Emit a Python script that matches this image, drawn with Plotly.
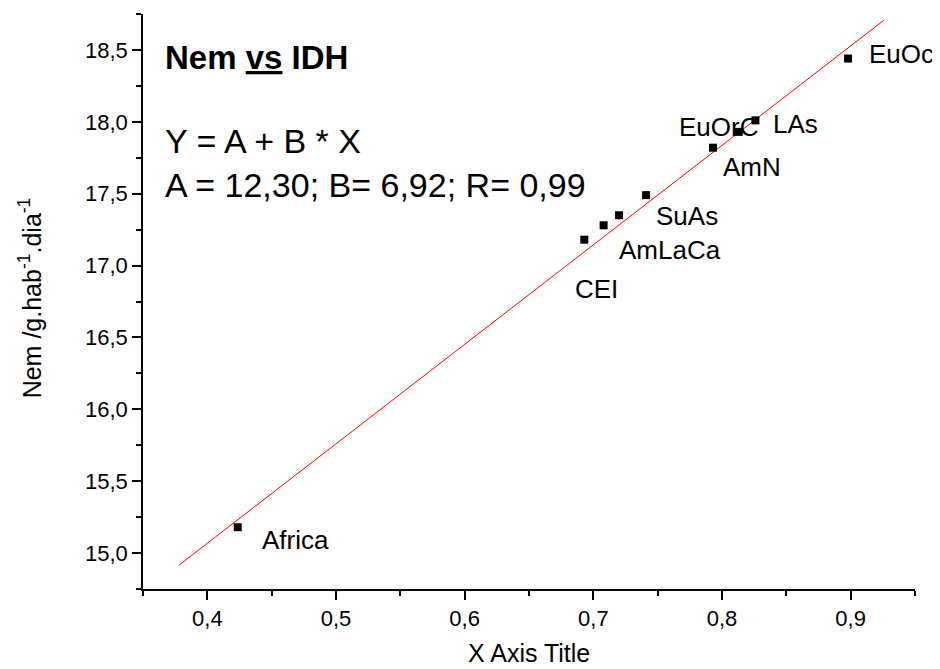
import plotly.graph_objects as go

# ---- data ----
idh = [0.4236, 0.693, 0.708, 0.720, 0.741, 0.793, 0.813, 0.826, 0.898]
nem = [15.18, 17.18, 17.28, 17.35, 17.49, 17.82, 17.93, 18.01, 18.44]
labels = ["Africa", "CEI", "AmLaCa", "", "SuAs", "AmN", "EuOrC", "LAs", "EuOc"]
fit_A = 12.30
fit_B = 6.92
fit_x = [0.378, 0.926]
x_ticks = [0.4, 0.5, 0.6, 0.7, 0.8, 0.9]
y_ticks = [15.0, 15.5, 16.0, 16.5, 17.0, 17.5, 18.0, 18.5]

# label offsets in pixels (left edge, vertical centre) relative to point
label_dx = [23, -10, 14, 0, 9, 9, -61, 17, 20]
label_dy = [13, 49, 25, 0, 21, 19, -5, 4, -5]

fit_y = [fit_A + fit_B * x for x in fit_x]

FONT = "Liberation Sans, Arial, sans-serif"

fig = go.Figure()
fig.add_trace(go.Scatter(x=fit_x, y=fit_y, mode="lines",
                         line=dict(color="#ff0000", width=1), hoverinfo="skip"))
fig.add_trace(go.Scatter(x=idh, y=nem, mode="markers",
                         marker=dict(symbol="square", color="black", size=8,
                                     line=dict(width=0))))

annotations = []
for x, y, t, dx, dy in zip(idh, nem, labels, label_dx, label_dy):
    if not t:
        continue
    annotations.append(dict(x=x, y=y, xref="x", yref="y", text=t, showarrow=False,
                            xanchor="left", yanchor="middle", xshift=dx - 1, yshift=-dy,
                            font=dict(size=26, color="black", family=FONT)))

annotations.append(dict(x=0.0264, y=0.925, xref="paper", yref="paper",
                        text="<b>Nem <u>vs</u> IDH</b>", showarrow=False,
                        xanchor="left", yanchor="middle",
                        font=dict(size=33, color="black", family=FONT)))
annotations.append(dict(x=0.0264, y=0.779, xref="paper", yref="paper",
                        text="Y = A + B * X", showarrow=False,
                        xanchor="left", yanchor="middle",
                        font=dict(size=34, color="black", family=FONT)))
annotations.append(dict(x=0.0264, y=0.7026, xref="paper", yref="paper",
                        text="A = 12,30; B= 6,92; R= 0,99", showarrow=False,
                        xanchor="left", yanchor="middle",
                        font=dict(size=34, color="black", family=FONT)))
# axis titles
annotations.append(dict(x=0.5, y=-0.112, xref="paper", yref="paper",
                        text="X Axis Title", showarrow=False,
                        xanchor="center", yanchor="middle",
                        font=dict(size=25, color="black", family=FONT)))
annotations.append(dict(x=-0.146, y=0.506, xref="paper", yref="paper",
                        text="Nem /g.hab<sup>-1</sup>.dia<sup>-1</sup>", showarrow=False,
                        textangle=-90, xanchor="center", yanchor="middle",
                        font=dict(size=25, color="black", family=FONT)))

# page body has an 8px default margin, so the figure is sized to fit inside it
fig.update_layout(
    width=932, height=661,
    margin=dict(l=135, r=25, t=6, b=80),
    paper_bgcolor="white", plot_bgcolor="white",
    showlegend=False,
    separators=",.",
    font=dict(family=FONT, color="black", size=22),
    annotations=annotations,
    xaxis=dict(range=[0.35, 0.95], tickvals=x_ticks, tickformat=".1f", automargin=False,
               showgrid=False, zeroline=False, showline=True, linecolor="black",
               linewidth=1.5, ticks="outside", ticklen=9, tickwidth=1.5, tickcolor="black",
               minor=dict(dtick=0.05, tick0=0.35, ticks="outside", ticklen=5,
                          tickwidth=1.5, tickcolor="black", showgrid=False),
               tickfont=dict(size=22, color="black")),
    yaxis=dict(range=[14.75, 18.75], tickvals=y_ticks, tickformat=".1f", automargin=False,
               showgrid=False, zeroline=False, showline=True, linecolor="black",
               linewidth=1.5, ticks="outside", ticklen=9, tickwidth=1.5, tickcolor="black",
               minor=dict(dtick=0.25, tick0=14.75, ticks="outside", ticklen=5,
                          tickwidth=1.5, tickcolor="black", showgrid=False),
               tickfont=dict(size=22, color="black")),
)

fig.write_html("out.html")
